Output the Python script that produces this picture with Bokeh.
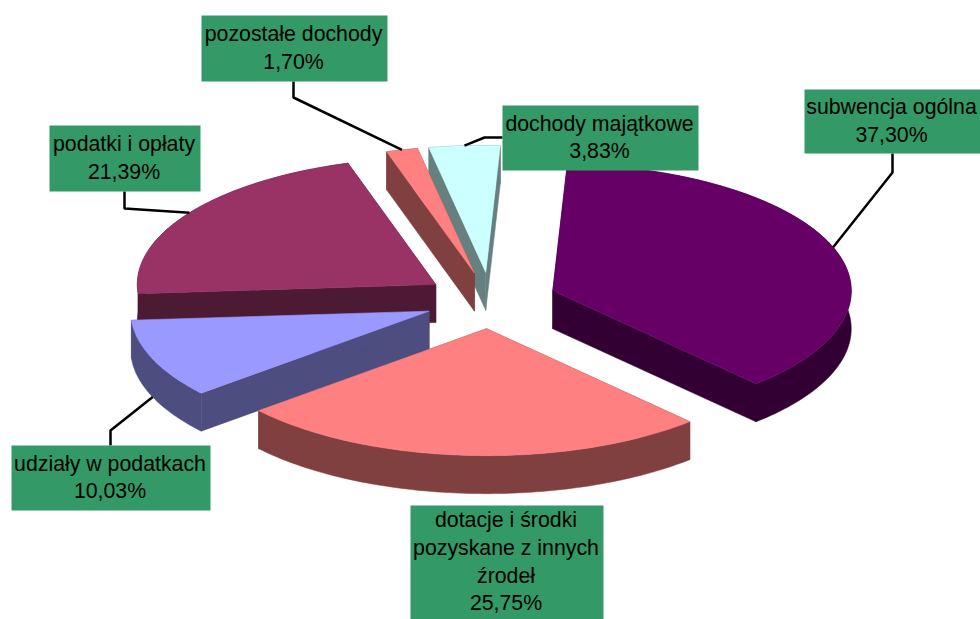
import numpy as np
from bokeh.plotting import figure
from bokeh.models import Range1d
from bokeh.core.properties import value
from bokeh.embed import file_html
from bokeh.resources import INLINE

# --- data -----------------------------------------------------------------
categories = ["subwencja ogólna", "dotacje i środki\npozyskane z innych\nźrodeł",
              "udziały w podatkach", "podatki i opłaty", "pozostałe dochody",
              "dochody majątkowe"]
shares = [37.30, 25.75, 10.03, 21.39, 1.70, 3.83]
share_labels = ["37,30%", "25,75%", "10,03%", "21,39%", "1,70%", "3,83%"]
top_colors = ["#660066", "#FF8080", "#9999FF", "#993366", "#FF8080", "#CCFFFF"]
side_colors = ["#330033", "#804040", "#4D4D80", "#4D1A33", "#804040", "#668080"]

# --- layout (pixels of the 980x619 picture) --------------------------------
CX, CY = 490.0, 300.0          # centre of the un-exploded pie
A, B = 298.5, 127.0            # semi axes of the tilted disc
DEPTH = 38.0
EXPLODE = 0.222
START_DEG = 2.8
BOX = "#339966"
# label boxes: left, right, top, bottom
boxes = [(804, 980, 89, 153), (410, 603, 505, 619), (11, 210, 445, 510),
         (49, 200, 125, 191), (201, 387, 15, 81), (502, 698, 105, 170)]
# elbow points of the leader lines, from the slice towards its label box
elbows = [[(892, 172), (892, 153)], None, [(110, 430), (110, 445)],
          [(124, 208), (124, 191)], [(293, 97), (293, 81)], [(484, 137), (502, 137)]]
LINE_H = 27.6

p = figure(width=980, height=619, output_backend="svg", toolbar_location=None,
           x_range=Range1d(0, 980), y_range=Range1d(619, 0),
           min_border=0, outline_line_color=None, background_fill_color="white")
p.axis.visible = False
p.grid.visible = False

# --- slices ---------------------------------------------------------------
edges = START_DEG + np.concatenate([[0], np.cumsum(shares)]) * 3.6
slices = []
for i in range(len(shares)):
    a0, a1 = np.radians(edges[i]), np.radians(edges[i + 1])
    mid = (a0 + a1) / 2
    ax = CX + A * EXPLODE * np.sin(mid)
    ay = CY - B * EXPLODE * np.cos(mid)
    t = np.linspace(a0, a1, max(int(np.degrees(a1 - a0)), 2) + 1)
    rx = ax + A * np.sin(t)
    ry = ay - B * np.cos(t)
    slices.append(dict(i=i, ax=ax, ay=ay, rx=rx, ry=ry, mid=mid))

for s in sorted(slices, key=lambda s: s["ay"]):
    ax, ay, rx, ry = s["ax"], s["ay"], s["rx"], s["ry"]
    side = side_colors[s["i"]]
    # radial walls
    for k in (0, -1):
        p.patch([ax, rx[k], rx[k], ax], [ay, ry[k], ry[k] + DEPTH, ay + DEPTH],
                fill_color=side, line_color=side, line_width=0.5)
    # outer wall
    p.patch(np.r_[rx, rx[::-1]], np.r_[ry, ry[::-1] + DEPTH],
            fill_color=side, line_color=side, line_width=0.5)
    # top face
    top = top_colors[s["i"]]
    p.patch(np.r_[ax, rx], np.r_[ay, ry], fill_color=top, line_color=top, line_width=0.5)

# --- leader lines ---------------------------------------------------------
for s in slices:
    bend = elbows[s["i"]]
    if bend is None:
        continue
    sx = s["ax"] + A * np.sin(s["mid"])
    sy = s["ay"] - B * np.cos(s["mid"])
    if np.cos(s["mid"]) < 0:      # slices facing the viewer: attach under the wall
        sy += DEPTH
    p.line([sx] + [b[0] for b in bend], [sy] + [b[1] for b in bend],
           line_color="black", line_width=2.5)

# --- labels ---------------------------------------------------------------
for (l, r, t, b), name, pct in zip(boxes, categories, share_labels):
    p.quad(left=[l], right=[r], top=[t], bottom=[b], fill_color=BOX, line_color=None)
    lines = name.split("\n") + [pct]
    cy = (t + b) / 2 - 0.7
    ys = [cy + (j - (len(lines) - 1) / 2) * LINE_H for j in range(len(lines))]
    p.text(x=[(l + r) / 2 - 1] * len(lines), y=ys, text=lines,
           text_font=value("Liberation Sans"), text_font_size="21.3px",
           text_color="black", text_align="center", text_baseline="middle")

open("out.html", "w").write(file_html(p, INLINE))
